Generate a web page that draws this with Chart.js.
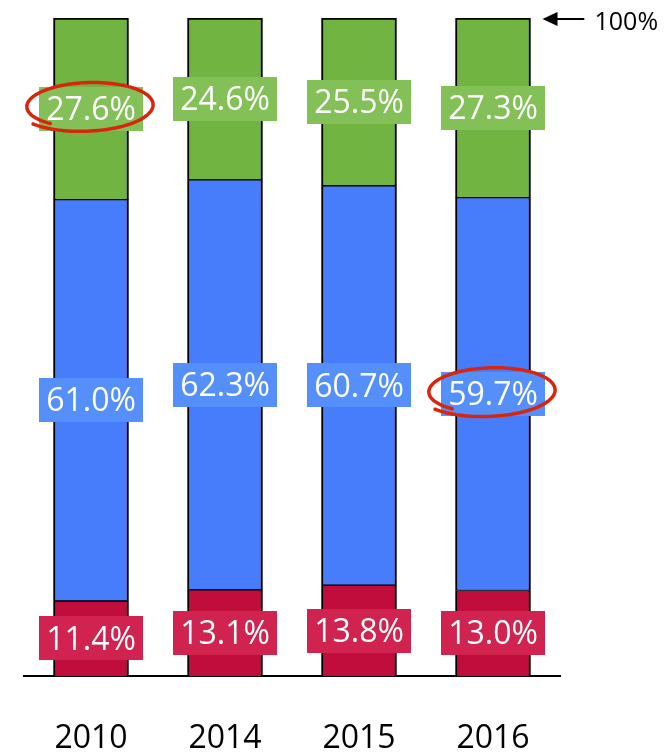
<!DOCTYPE html>
<html>
<head>
<meta charset="utf-8">
<script src="https://cdn.jsdelivr.net/npm/chart.js@4/dist/chart.umd.min.js"></script>
<style>
  html, body { margin: 0; padding: 0; background: #ffffff; }
  #wrap { width: 671px; height: 752px; position: relative; }
</style>
</head>
<body>
<div id="wrap"><canvas id="c" width="671" height="752"></canvas></div>
<script>
const categories = ['2010', '2014', '2015', '2016'];
const redValues = [11.4, 13.1, 13.8, 13.0];
const blueValues = [61.0, 62.3, 60.7, 59.7];
const greenValues = [27.6, 24.6, 25.5, 27.3];
const topLabel = '100%';
// circled labels: [datasetIndex, dataIndex]
const circled = [[2, 0], [1, 3]];

const FONT = "'Open Sans', 'Noto Sans', sans-serif";

const labelPlugin = {
  id: 'segLabels',
  afterDatasetsDraw(chart) {
    const ctx = chart.ctx;
    ctx.save();
    chart.data.datasets.forEach((ds, di) => {
      const meta = chart.getDatasetMeta(di);
      meta.data.forEach((el, i) => {
        const p = el.getProps(['x', 'y', 'base'], true);
        const cy = (p.y + p.base) / 2;
        const w = 104, h = 44;
        ctx.fillStyle = ds.labelBg;
        ctx.fillRect(Math.round(p.x - w / 2), Math.round(cy - h / 2), w, h);
        ctx.fillStyle = '#ffffff';
        ctx.font = '32px ' + FONT;
        ctx.textAlign = 'center';
        ctx.textBaseline = 'middle';
        ctx.fillText(ds.data[i].toFixed(1) + '%', p.x, cy + 2);
      });
    });
    // hand-drawn red ellipses
    circled.forEach(([di, i]) => {
      const el = chart.getDatasetMeta(di).data[i];
      const p = el.getProps(['x', 'y', 'base'], true);
      const cx = p.x - 4, cy = (p.y + p.base) / 2 - 3;
      const rx = 68, ry = 25, rot = -0.03;
      ctx.beginPath();
      const t0 = 0.72 * Math.PI, t1 = 2.78 * Math.PI;
      const n = 120;
      for (let k = 0; k <= n; k++) {
        const f = k / n;
        const t = t0 + (t1 - t0) * f;
        const s = 0.86 + 0.18 * f;
        const ex = Math.cos(t) * rx * s, ey = Math.sin(t) * ry * s;
        const X = cx + ex * Math.cos(rot) - ey * Math.sin(rot);
        const Y = cy + ex * Math.sin(rot) + ey * Math.cos(rot);
        if (k === 0) ctx.moveTo(X, Y); else ctx.lineTo(X, Y);
      }
      ctx.strokeStyle = '#D8260E';
      ctx.lineWidth = 3.5;
      ctx.lineCap = 'round';
      ctx.lineJoin = 'round';
      ctx.stroke();
    });
    // 100% arrow annotation
    const last = chart.getDatasetMeta(2).data[categories.length - 1];
    const lp = last.getProps(['x', 'width'], true);
    const y100 = chart.scales.y.getPixelForValue(100) + 1;
    const tipX = lp.x + lp.width / 2 + 12;
    ctx.strokeStyle = '#000';
    ctx.fillStyle = '#000';
    ctx.lineWidth = 2;
    ctx.beginPath();
    ctx.moveTo(tipX + 10, y100);
    ctx.lineTo(tipX + 41, y100);
    ctx.stroke();
    ctx.beginPath();
    ctx.moveTo(tipX, y100);
    ctx.lineTo(tipX + 15, y100 - 7);
    ctx.lineTo(tipX + 15, y100 + 7);
    ctx.closePath();
    ctx.fill();
    ctx.font = '25px ' + FONT;
    ctx.textAlign = 'left';
    ctx.textBaseline = 'middle';
    ctx.fillText(topLabel, tipX + 52, y100 + 4);
    ctx.restore();
  }
};

new Chart(document.getElementById('c'), {
  type: 'bar',
  data: {
    labels: categories,
    datasets: [
      { data: redValues, backgroundColor: '#C00D3C', labelBg: '#D1234F',
        borderColor: '#000', borderWidth: { left: 2, right: 2, top: 1, bottom: 0 } },
      { data: blueValues, backgroundColor: '#477CFA', labelBg: '#558FFA',
        borderColor: '#000', borderWidth: { left: 2, right: 2, top: 1, bottom: 1 } },
      { data: greenValues, backgroundColor: '#72B442', labelBg: '#84C058',
        borderColor: '#000', borderWidth: { left: 2, right: 2, top: 2, bottom: 1 } }
    ]
  },
  options: {
    responsive: false,
    animation: false,
    devicePixelRatio: 1,
    layout: { padding: { left: 24, right: 111, top: 18, bottom: 0 } },
    datasets: { bar: { barThickness: 75, borderSkipped: false } },
    plugins: { legend: { display: false }, tooltip: { enabled: false } },
    scales: {
      x: {
        stacked: true,
        grid: { display: false, drawTicks: false },
        border: { display: true, color: '#000', width: 2 },
        ticks: { color: '#000', font: { family: FONT, size: 32, lineHeight: 1 }, padding: 47 },
        afterFit: (s) => { s.height = 76; }
      },
      y: {
        stacked: true, display: false, min: 0, max: 100
      }
    }
  },
  plugins: [labelPlugin]
});
</script>
</body>
</html>
